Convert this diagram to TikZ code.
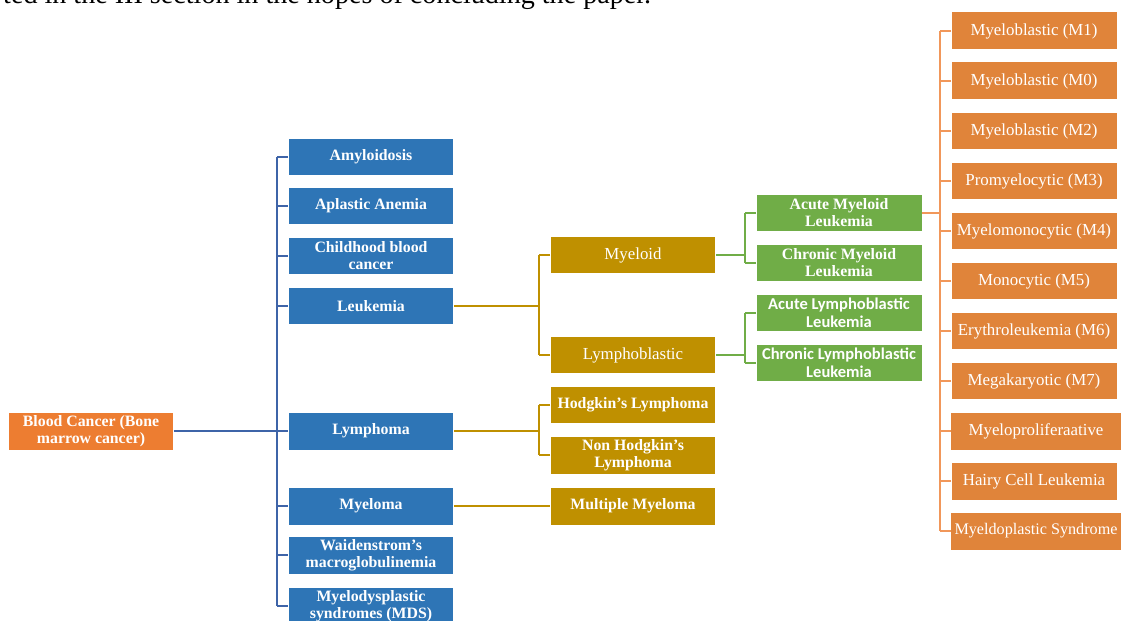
\documentclass[tikz,border=0pt]{standalone}
\usepackage{fontspec}
\setmainfont{Liberation Serif}
\newfontfamily\calfont{Carlito}
\definecolor{cblue}{HTML}{2E75B6}
\definecolor{cgold}{HTML}{BF9000}
\definecolor{cgreen}{HTML}{70AD47}
\definecolor{corange}{HTML}{E0843A}
\definecolor{croot}{HTML}{ED7D31}
\definecolor{ctrunk}{HTML}{3E64A8}

\begin{document}
\begin{tikzpicture}[x=0.02cm,y=-0.02cm,
  box/.style={minimum height=0.74cm,minimum width=3.3cm,inner sep=0.03cm,align=center,text=white,
    font=\fontsize{9}{9.6}\selectfont\bfseries},
  bluebox/.style={box,fill=cblue},
  goldbox/.style={box,fill=cgold},
  greenbox/.style={box,fill=cgreen},
  orbox/.style={box,fill=corange,font=\fontsize{9.6}{10}\selectfont},
  bline/.style={draw=ctrunk,line width=1pt},
  gline/.style={draw=cgold,line width=1pt},
  cline/.style={draw=cgreen,line width=1pt},
  oline/.style={draw=croot!80,line width=1pt}]
\clip (0,0) rectangle (1124,621);
\node[anchor=base west,font=\fontsize{16}{16}\selectfont] (cap) at (-3,4) {ted in the III section in the hopes of concluding the paper.};

\node[box,fill=croot] (root) at (91,431) {Blood Cancer (Bone\\marrow cancer)};

% first level
\node[bluebox] (amyl) at (371,157) {Amyloidosis};
\node[bluebox] (aplas) at (371,206) {Aplastic Anemia};
\node[bluebox] (child) at (371,256) {Childhood blood\\cancer};
\node[bluebox] (leuk) at (371,306) {Leukemia};
\node[bluebox] (lymph) at (371,431) {Lymphoma};
\node[bluebox] (myel) at (371,506) {Myeloma};
\node[bluebox] (waid) at (371,555) {Waidenstrom's\\macroglobulinemia};
\node[bluebox] (mds) at (371,606) {Myelodysplastic\\syndromes (MDS)};

% second level
\node[goldbox,font=\fontsize{9.6}{10}\selectfont] (myeloid) at (633,255) {Myeloid};
\node[goldbox,font=\fontsize{9.6}{10}\selectfont] (lymphob) at (633,355) {Lymphoblastic};
\node[goldbox] (hodg) at (633,405) {Hodgkin's Lymphoma};
\node[goldbox] (nonh) at (633,455) {Non Hodgkin's\\Lymphoma};
\node[goldbox] (multi) at (633,506) {Multiple Myeloma};

% third level
\node[greenbox] (aml) at (839,213) {Acute Myeloid\\Leukemia};
\node[greenbox] (cml) at (839,263) {Chronic Myeloid\\Leukemia};
\node[greenbox,font=\calfont\fontsize{9.4}{10}\selectfont\bfseries] (alls) at (839,313) {Acute Lymphoblastic\\Leukemia};
\node[greenbox,font=\calfont\fontsize{9.4}{10}\selectfont\bfseries] (clls) at (839,363) {Chronic Lymphoblastic\\Leukemia};

% AML subtypes
\node[orbox] (mone) at (1034,31) {Myeloblastic (M1)};
\node[orbox] (mzero) at (1034,81) {Myeloblastic (M0)};
\node[orbox] (mtwo) at (1034,131) {Myeloblastic (M2)};
\node[orbox] (mthree) at (1034,181) {Promyelocytic (M3)};
\node[orbox] (mfour) at (1034,231) {Myelomonocytic (M4)};
\node[orbox] (mfive) at (1034,281) {Monocytic (M5)};
\node[orbox] (msix) at (1034,331) {Erythroleukemia (M6)};
\node[orbox] (mseven) at (1034,381) {Megakaryotic (M7)};
\node[orbox,minimum width=3.4cm] (mprol) at (1036,431) {Myeloproliferaative};
\node[orbox] (hairy) at (1034,481) {Hairy Cell Leukemia};
\node[orbox,minimum width=3.4cm,font=\fontsize{9.2}{10}\selectfont] (mdsyn) at (1036,531) {Myeldoplastic Syndrome};

\coordinate (bt) at (277,0);
\coordinate (gt) at (539,0);
\coordinate (ct) at (745,0);
\coordinate (ot) at (940,0);

\draw[bline] (root.east) -- (root.east -| bt);
\draw[bline] (amyl.west -| bt) -- (mds.west -| bt);
\foreach \n in {amyl,aplas,child,leuk,lymph,myel,waid,mds}
  \draw[bline] (\n.west) -- (\n.west -| bt);

\draw[gline] (leuk.east) -- (leuk.east -| gt);
\draw[gline] (myeloid.west -| gt) -- (lymphob.west -| gt);
\draw[gline] (lymph.east) -- (lymph.east -| gt);
\draw[gline] (hodg.west -| gt) -- (nonh.west -| gt);
\foreach \n in {myeloid,lymphob,hodg,nonh}
  \draw[gline] (\n.west) -- (\n.west -| gt);
\draw[gline] (myel.east) -- (multi.west);

\draw[cline] (myeloid.east) -- (myeloid.east -| ct);
\draw[cline] (aml.west -| ct) -- (cml.west -| ct);
\draw[cline] (lymphob.east) -- (lymphob.east -| ct);
\draw[cline] (alls.west -| ct) -- (clls.west -| ct);
\foreach \n in {aml,cml,alls,clls}
  \draw[cline] (\n.west) -- (\n.west -| ct);

\draw[oline] (aml.east) -- (aml.east -| ot);
\draw[oline] (mone.west -| ot) -- (mdsyn.west -| ot);
\foreach \n in {mone,mzero,mtwo,mthree,mfour,mfive,msix,mseven,mprol,hairy,mdsyn}
  \draw[oline] (\n.west) -- (\n.west -| ot);
\end{tikzpicture}
\end{document}
